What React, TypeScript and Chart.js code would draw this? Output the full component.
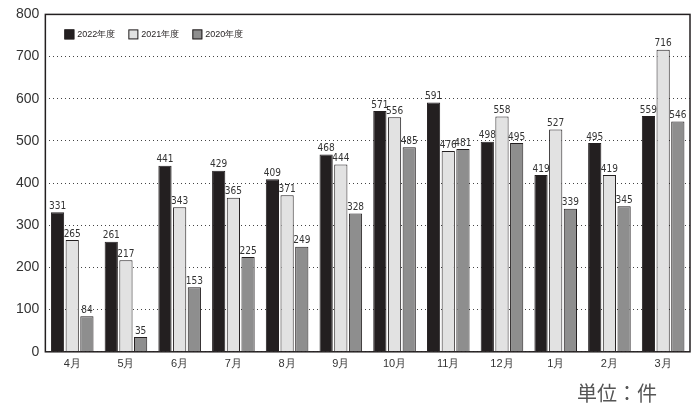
import React, { useEffect, useRef } from "react";
import { Chart, registerables } from "chart.js";

Chart.register(...registerables);

const categories = ["4月", "5月", "6月", "7月", "8月", "9月", "10月", "11月", "12月", "1月", "2月", "3月"];
const seriesNames = ["2022年度", "2021年度", "2020年度"];
const values2022 = [331, 261, 441, 429, 409, 468, 571, 591, 498, 419, 495, 559];
const values2021 = [265, 217, 343, 365, 371, 444, 556, 476, 558, 527, 419, 716];
const values2020 = [84, 35, 153, 225, 249, 328, 485, 481, 495, 339, 345, 546];
const seriesColors = ["#231f20", "#e2e2e2", "#8e8e8e"];
const unitLabel = "単位：件";

const labelFont = "'Liberation Sans Narrow', 'DejaVu Sans Condensed', 'Arial Narrow', sans-serif";
const mainFont = "'Liberation Sans', Arial, sans-serif";

const decorPlugin = {
  id: "decor",
  afterDatasetsDraw(chart: any) {
    const ctx = chart.ctx;
    const area = chart.chartArea;
    ctx.save();
    // frame
    ctx.strokeStyle = "#231f20";
    ctx.lineWidth = 1.5;
    ctx.strokeRect(area.left, area.top, area.right - area.left, area.bottom - area.top);
    // value labels
    ctx.font = "10px " + labelFont;
    ctx.fillStyle = "#333";
    ctx.textAlign = "center";
    ctx.textBaseline = "bottom";
    chart.data.datasets.forEach((ds: any, di: number) => {
      const meta = chart.getDatasetMeta(di);
      meta.data.forEach((bar: any, i: number) => {
        ctx.fillText(String(ds.data[i]), bar.x, bar.y - 1);
      });
    });
    // legend
    let x = area.left + 19;
    const y = area.top + 15;
    ctx.font = "9px " + mainFont;
    ctx.textAlign = "left";
    ctx.textBaseline = "middle";
    seriesNames.forEach((name, i) => {
      ctx.fillStyle = seriesColors[i];
      ctx.fillRect(x, y, 10, 10);
      ctx.strokeStyle = "#231f20";
      ctx.lineWidth = 1;
      ctx.strokeRect(x + 0.5, y + 0.5, 9, 9);
      ctx.fillStyle = "#231f20";
      ctx.fillText(name, x + 13, y + 5.5);
      x += 64;
    });
    // unit label
    ctx.font = "20px 'Noto Sans CJK JP', sans-serif";
    ctx.fillStyle = "#555";
    ctx.textAlign = "left";
    ctx.textBaseline = "middle";
    ctx.fillText(unitLabel, 577, 393);
    ctx.restore();
  },
};

export default function App() {
  const ref = useRef<HTMLCanvasElement>(null);
  useEffect(() => {
    if (!ref.current) return;
    const chart = new Chart(ref.current, {
      type: "bar",
      data: {
        labels: categories,
        datasets: [values2022, values2021, values2020].map((d, i) => ({
          label: seriesNames[i],
          data: d,
          backgroundColor: seriesColors[i],
          borderColor: "#231f20",
          borderWidth: 1,
          categoryPercentage: 0.82,
          barPercentage: 0.9,
        })),
      },
      options: {
        animation: false,
        responsive: true,
        maintainAspectRatio: false,
        layout: { padding: { top: 6, right: 6, bottom: 28, left: 10 } },
        plugins: { legend: { display: false }, tooltip: { enabled: false } },
        scales: {
          x: {
            grid: { display: false, drawTicks: false },
            border: { display: false },
            ticks: { color: "#333", font: { size: 11, family: mainFont }, padding: 6 },
          },
          y: {
            min: 0,
            max: 800,
            border: { display: false, dash: [1, 3] },
            grid: {
              color: "#444",
              lineWidth: 1,
              drawTicks: false,
            },
            ticks: {
              stepSize: 100,
              color: "#333",
              font: { size: 14, family: mainFont },
              padding: 6,
            },
          },
        },
      },
      plugins: [decorPlugin],
    });
    return () => chart.destroy();
  }, []);
  return (
    <div style={{ position: "fixed", left: 0, top: 0, width: 696, height: 405, background: "#fff" }}>
      <canvas ref={ref} />
    </div>
  );
}
